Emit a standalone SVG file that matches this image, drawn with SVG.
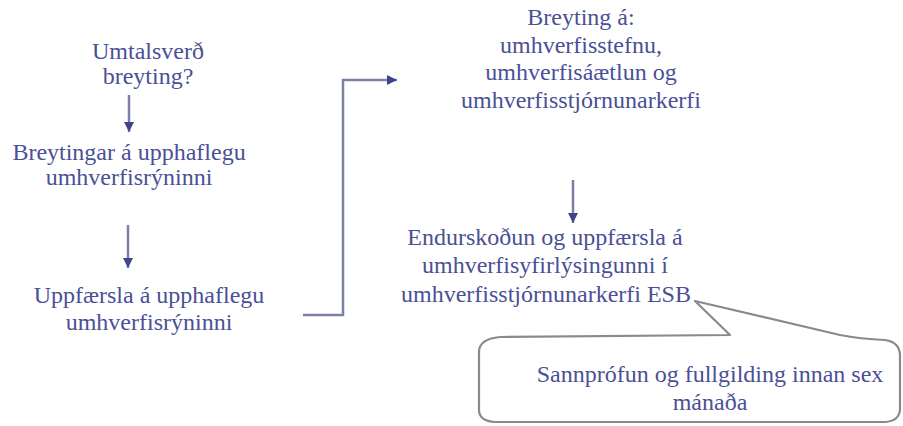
<svg xmlns="http://www.w3.org/2000/svg" width="903" height="426" viewBox="0 0 903 426">
<style>
text{font-family:'Liberation Serif','DejaVu Serif',serif;font-size:24px;fill:#4a5096;text-anchor:middle}
.ln{fill:none;stroke:#7d80a6;stroke-width:2.5}
.co{fill:none;stroke:#8a8a8e;stroke-width:2.2;stroke-linejoin:round}
</style>
<defs>
<marker id="ah" viewBox="0 0 10 10" refX="10" refY="5" markerWidth="10" markerHeight="10" markerUnits="userSpaceOnUse" orient="auto">
<path d="M0,0 L10,5 L0,10 Z" fill="#3f4589"/>
</marker>
</defs>
<rect width="903" height="426" fill="#fff"/>
<g id="connectors">
<line class="ln" x1="129" y1="95" x2="129" y2="132" marker-end="url(#ah)"/>
<line class="ln" x1="128" y1="225" x2="128" y2="268" marker-end="url(#ah)"/>
<line class="ln" x1="573" y1="180" x2="573" y2="223" marker-end="url(#ah)"/>
<polyline class="ln" points="303,315 343,315 343,80 397,80" marker-end="url(#ah)"/>
</g>
<g id="n1"><text x="148" y="59">Umtalsverð</text><text x="148" y="84">breyting?</text></g>
<g id="n2"><text x="129" y="159.5">Breytingar á upphaflegu</text><text x="129" y="185">umhverfisrýninni</text></g>
<g id="n3"><text x="149" y="302.5">Uppfærsla á upphaflegu</text><text x="149" y="329.5">umhverfisrýninni</text></g>
<g id="n4"><text x="581" y="25">Breyting á:</text><text x="581" y="52.5">umhverfisstefnu,</text><text x="581" y="80">umhverfisáætlun og</text><text x="581" y="108">umhverfisstjórnunarkerfi</text></g>
<g id="n5"><text x="545" y="245">Endurskoðun og uppfærsla á</text><text x="545" y="273">umhverfisyfirlýsingunni í</text><text x="546" y="301.5">umhverfisstjórnunarkerfi ESB</text></g>
<g id="n6">
<path class="co" d="M730,335 L695,301 L840,335 Q860,339 885,340 Q900,342 900,356 L900,410 Q899,421 885,422 L495,422 Q479,421 479,410 L479,352 Q479,339 500,337 Z"/>
<text x="710" y="382">Sannprófun og fullgilding innan sex</text><text x="710" y="410">mánaða</text>
</g>
</svg>
